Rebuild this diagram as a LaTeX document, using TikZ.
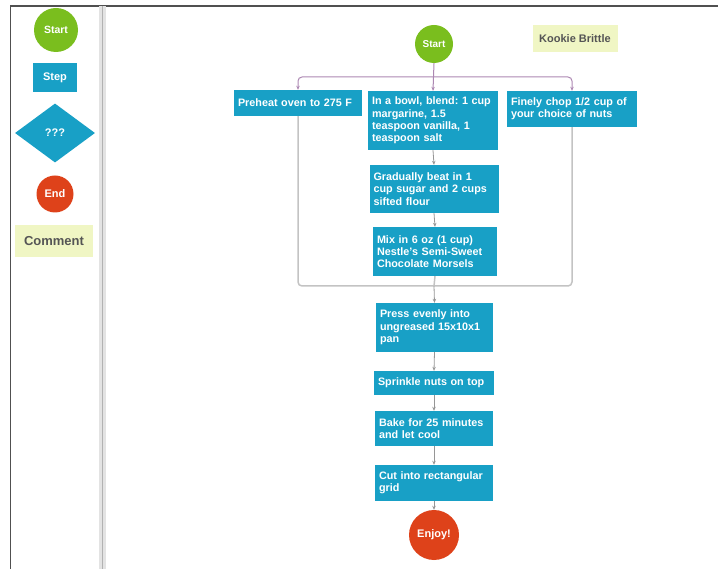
\documentclass[tikz,border=0pt]{standalone}
\usepackage{fontspec}
\setmainfont{Liberation Sans}
\usetikzlibrary{shapes.geometric,arrows.meta}
\definecolor{stepblue}{RGB}{24,160,198}
\definecolor{startgreen}{RGB}{122,190,30}
\definecolor{endred}{RGB}{222,66,26}
\definecolor{commentfill}{RGB}{240,246,196}
\definecolor{commenttext}{RGB}{85,85,85}
\definecolor{conngray}{RGB}{150,150,150}
\definecolor{branchpurple}{RGB}{172,135,178}
\definecolor{groupgray}{RGB}{195,195,195}
\definecolor{framegray}{RGB}{80,80,80}
\frenchspacing
\begin{document}
\begin{tikzpicture}[x=1pt,y=-1pt,
  stepbox/.style={fill=stepblue, text=white, font=\bfseries\fontsize{10.8}{12.3}\selectfont,
    align=left, inner xsep=4pt, inner ysep=2pt},
  legendstep/.style={fill=stepblue, text=white, font=\bfseries\fontsize{11}{12}\selectfont,
    align=center, inner sep=0pt},
  startc/.style={circle, fill=startgreen, text=white, font=\bfseries\fontsize{10}{11}\selectfont, inner sep=0pt},
  endc/.style={circle, fill=endred, text=white, font=\bfseries\fontsize{11}{12}\selectfont, inner sep=0pt},
  commentbox/.style={fill=commentfill, text=commenttext, font=\bfseries\fontsize{11}{12}\selectfont, inner sep=0pt},
  conn/.style={draw=conngray, line width=0.8pt, -{Stealth[length=4pt,width=3.5pt]}},
  branch/.style={draw=branchpurple, line width=1pt, rounded corners=4pt, -{Stealth[length=4pt,width=3.5pt]}},
  grp/.style={draw=groupgray, line width=1.5pt, rounded corners=4pt},
]
\useasboundingbox (0,0) rectangle (718,569);
% frame and divider
\draw[framegray, line width=1.2pt] (10.5,569) -- (10.5,6) -- (718,6);
\fill[gray!22] (99,6) rectangle (106,569);
\draw[gray!60, line width=1.6pt] (102.5,6) -- (102.5,569);

% legend
\node[startc, minimum size=44pt, font=\bfseries\fontsize{10.5}{12}\selectfont] (lstart) at (56,30) {Start};
\node[legendstep, minimum width=44pt, minimum height=29pt] (lstep) at (55,78) {Step};
\node[diamond, fill=stepblue, text=white, font=\bfseries\fontsize{11}{12}\selectfont,
  inner sep=0pt, aspect=1.36, minimum width=80pt, minimum height=59pt] (ldec) at (55,133) {???};
\node[endc, minimum size=37pt] (lend) at (55,194) {End};
\node[commentbox, minimum width=78pt, minimum height=32pt, font=\bfseries\fontsize{13}{14}\selectfont] (lcomment) at (54,241) {Comment};

% main flow
\node[startc, minimum size=38pt] (start) at (434,44) {Start};
\node[commentbox, minimum width=85pt, minimum height=27pt] (title) at (575,38.5) {Kookie Brittle};

\node[stepbox, minimum width=128pt, text width=120pt, minimum height=26pt] (preheat) at (298,103) {Preheat oven to 275 F};
\node[stepbox, minimum width=130pt, text width=122pt, minimum height=59pt] (blend) at (433,120.5)
  {In a bowl, blend: 1 cup\\margarine, 1.5\\teaspoon vanilla, 1\\teaspoon salt};
\node[stepbox, minimum width=130pt, text width=122pt, minimum height=36pt] (chop) at (572,109)
  {Finely chop 1/2 cup of\\your choice of nuts};
\node[stepbox, minimum width=129pt, text width=121pt, minimum height=48pt] (gradual) at (434,189)
  {Gradually beat in 1\\cup sugar and 2 cups\\sifted flour};
\node[stepbox, minimum width=124pt, text width=116pt, minimum height=49pt] (mix) at (435,251.5)
  {Mix in 6 oz (1 cup)\\Nestle's Semi-Sweet\\Chocolate Morsels};
\node[stepbox, minimum width=117pt, text width=109pt, minimum height=49pt] (press) at (434.5,327.5)
  {Press evenly into\\ungreased 15x10x1\\pan};
\node[stepbox, minimum width=120pt, text width=112pt, minimum height=24pt] (sprinkle) at (434,383)
  {Sprinkle nuts on top};
\node[stepbox, minimum width=118pt, text width=110pt, minimum height=35pt] (bake) at (434,428.5)
  {Bake for 25 minutes\\and let cool};
\node[stepbox, minimum width=118pt, text width=110pt, minimum height=36pt] (cut) at (434,483)
  {Cut into rectangular\\grid};
\node[endc, minimum size=50pt] (enjoy) at (434,535) {Enjoy!};

% branch from start
\coordinate (split) at (433,77);
\coordinate (join) at (434,286);
\draw[branch] (start.south) -- (blend.north);
\draw[branch] (split) -| (preheat.north);
\draw[branch] (split) -| (chop.north);

% group lines
\draw[grp] (preheat.south) |- (join) -| (chop.south);
\draw[grp] (mix.south) -- (join);

% sequential connectors
\draw[conn] (blend.south) -- (gradual.north);
\draw[conn] (gradual.south) -- (mix.north);
\draw[conn] (join) -- (press.north);
\draw[conn] (press.south) -- (sprinkle.north);
\draw[conn] (sprinkle.south) -- (bake.north);
\draw[conn] (bake.south) -- (cut.north);
\draw[conn] (cut.south) -- (enjoy.north);
\end{tikzpicture}
\end{document}
